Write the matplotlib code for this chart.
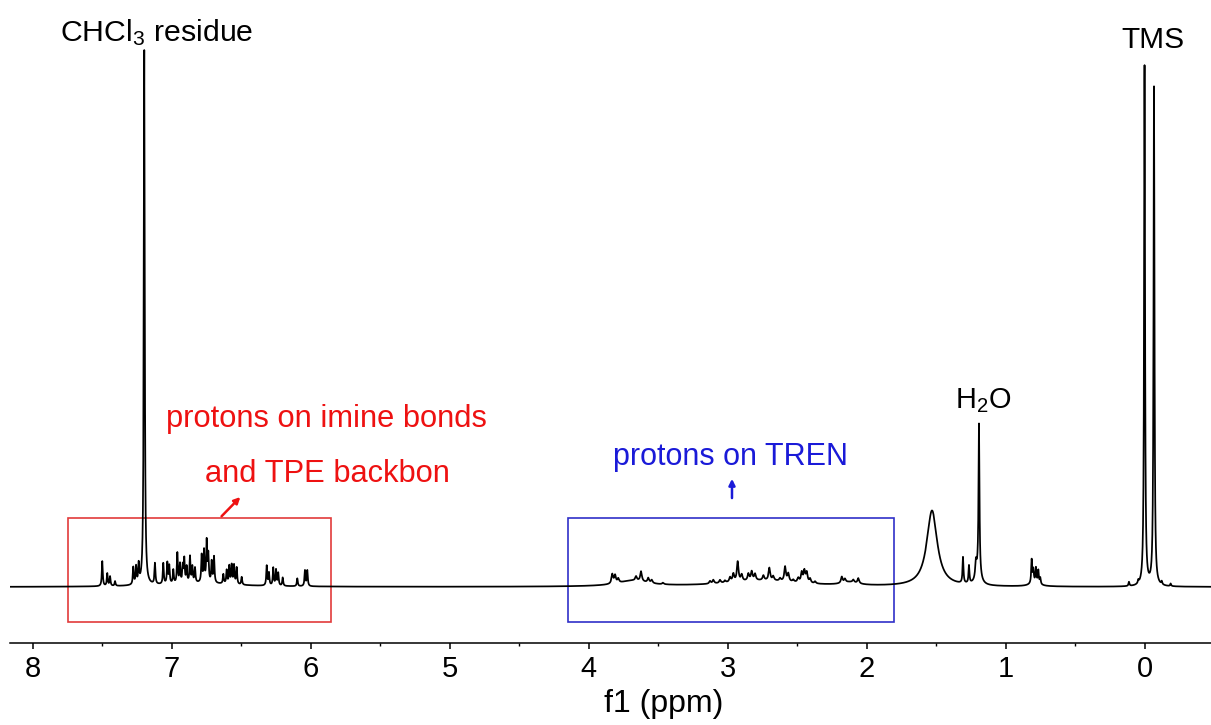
import numpy as np
import matplotlib
matplotlib.use('Agg')
import matplotlib.pyplot as plt
from matplotlib.patches import Rectangle

plt.rcParams['font.family'] = ['Liberation Sans', 'DejaVu Sans']
plt.rcParams['mathtext.fontset'] = 'custom'
plt.rcParams['mathtext.rm'] = 'Liberation Sans'
plt.rcParams['mathtext.it'] = 'Liberation Sans:italic'

# big reference lines (ppm, height, half width)
big_ppm = [7.196, 0.000, -0.068, 1.191, 1.213, 1.529, 1.195]
big_h = [1.029, 1.000, 0.959, 0.285, 0.030, 0.146, 0.025]
big_w = [0.004, 0.004, 0.004, 0.004, 0.006, 0.045, 0.02]

# aromatic / imine region
aro_ppm = [7.498, 7.462, 7.442, 7.406, 7.275, 7.255, 7.236, 7.119, 7.059, 7.030,
           7.016, 6.987, 6.958, 6.939, 6.919, 6.908, 6.891, 6.867, 6.850, 6.831,
           6.783, 6.766, 6.747, 6.735, 6.711, 6.694, 6.627, 6.603, 6.584, 6.567,
           6.550, 6.531, 6.495, 6.315, 6.299, 6.268, 6.248, 6.232, 6.200, 6.095,
           6.040, 6.023]
aro_h = [0.048, 0.024, 0.018, 0.009, 0.033, 0.033, 0.036, 0.040, 0.040, 0.040,
         0.034, 0.026, 0.058, 0.036, 0.032, 0.045, 0.030, 0.050, 0.030, 0.028,
         0.052, 0.060, 0.078, 0.052, 0.040, 0.050, 0.018, 0.026, 0.034, 0.036,
         0.036, 0.032, 0.015, 0.038, 0.024, 0.034, 0.030, 0.024, 0.016, 0.015,
         0.030, 0.030]

# TREN region
tren_ppm = [3.829, 3.809, 3.786, 3.658, 3.622, 3.570, 3.545, 3.464, 3.126, 3.102,
            3.054, 3.018, 2.982, 2.958, 2.927, 2.898, 2.850, 2.826, 2.802, 2.742,
            2.699, 2.671, 2.622, 2.586, 2.563, 2.527, 2.491, 2.466, 2.447, 2.430,
            2.406, 2.370, 2.178, 2.155, 2.095, 2.059]
tren_h = [0.018, 0.015, 0.008, 0.008, 0.019, 0.009, 0.006, 0.003, 0.005, 0.007,
          0.006, 0.004, 0.009, 0.015, 0.038, 0.012, 0.013, 0.017, 0.012, 0.009,
          0.024, 0.008, 0.005, 0.028, 0.015, 0.004, 0.008, 0.019, 0.022, 0.019,
          0.008, 0.004, 0.012, 0.007, 0.005, 0.010]

# small aliphatic / TMS satellites
small_ppm = [1.306, 1.263, 0.812, 0.800, 0.781, 0.764, 0.750, 0.112, 0.045, -0.124, -0.188]
small_h = [0.050, 0.034, 0.045, 0.024, 0.028, 0.025, 0.012, 0.008, 0.006, 0.006, 0.005]

# broad humps under multiplets
hump_ppm = [6.80, 3.68, 2.75, 2.12, 0.79]
hump_h = [0.007, 0.011, 0.012, 0.006, 0.007]
hump_w = [0.30, 0.13, 0.33, 0.07, 0.04]


def lorentz(x, c, h, w):
    return h / (1 + ((x - c) / w) ** 2)


x = np.linspace(-0.478, 8.162, 60000)
y = np.zeros_like(x)
for c, h, w in zip(big_ppm, big_h, big_w):
    y += lorentz(x, c, h, w)
for c, h in zip(aro_ppm, aro_h):
    y += lorentz(x, c, h, 0.004)
for c, h in zip(tren_ppm, tren_h):
    y += lorentz(x, c, h, 0.007)
for c, h in zip(small_ppm, small_h):
    y += lorentz(x, c, h, 0.004)
for c, h, w in zip(hump_ppm, hump_h, hump_w):
    y += lorentz(x, c, h, w)

fig = plt.figure(figsize=(12.11, 7.25), dpi=100)
ax = fig.add_axes([10 / 1211, 82 / 725, 1 - 10 / 1211, 643 / 725])
ax.plot(x, y, color='black', lw=1.25)

ax.set_xlim(8.162, -0.478)
ax.set_ylim(-0.1077, 1.1288)
for s in ['top', 'left', 'right']:
    ax.spines[s].set_visible(False)
ax.spines['bottom'].set_linewidth(1.1)
ax.set_yticks([])
ax.set_xticks([8, 7, 6, 5, 4, 3, 2, 1, 0])
ax.set_xticks(np.arange(0.5, 8.0, 1.0), minor=True)
ax.tick_params(axis='x', which='major', direction='out', length=4.5, width=1.1,
               labelsize=21, pad=4)
ax.tick_params(axis='x', which='minor', direction='out', length=2.2, width=1.0)
ax.set_xlabel('f1 (ppm)', fontsize=23, labelpad=6)
ax.xaxis.set_label_coords((664 - 10) / 1201, -0.072)

# boxes around regions
red = '#e23b3b'
blue = '#3030c8'
ax.add_patch(Rectangle((7.745, -0.0673), 5.853 - 7.745, 0.2000, fill=False,
                       edgecolor=red, lw=1.2))
ax.add_patch(Rectangle((4.147, -0.0673), 1.802 - 4.147, 0.2000, fill=False,
                       edgecolor=blue, lw=1.2))

ax.text(7.104, 1.050, 'CHCl$_3$ residue', fontsize=21.8, ha='center', va='baseline')
ax.text(1.160, 0.344, 'H$_2$O', fontsize=20.8, ha='center', va='baseline')
ax.text(-0.060, 1.037, 'TMS', fontsize=21.5, ha='center', va='baseline', clip_on=False)

ax.text(5.885, 0.308, 'protons on imine bonds', fontsize=22.2, color='#ee1111',
        ha='center', va='baseline')
ax.text(5.878, 0.2025, 'and TPE backbon', fontsize=22.2, color='#ee1111',
        ha='center', va='baseline')
ax.annotate('', xy=(6.505, 0.173), xytext=(6.640, 0.136),
            arrowprops=dict(arrowstyle='-|>', color='#ee1111', lw=1.8,
                            mutation_scale=9, shrinkA=0, shrinkB=0))

ax.text(2.978, 0.235, 'protons on TREN', fontsize=22, color='#1a1ad8',
        ha='center', va='baseline')
ax.annotate('', xy=(2.968, 0.208), xytext=(2.968, 0.171),
            arrowprops=dict(arrowstyle='-|>', color='#1a1ad8', lw=1.8,
                            mutation_scale=9, shrinkA=0, shrinkB=0))

fig.savefig('out.png', dpi=100)
